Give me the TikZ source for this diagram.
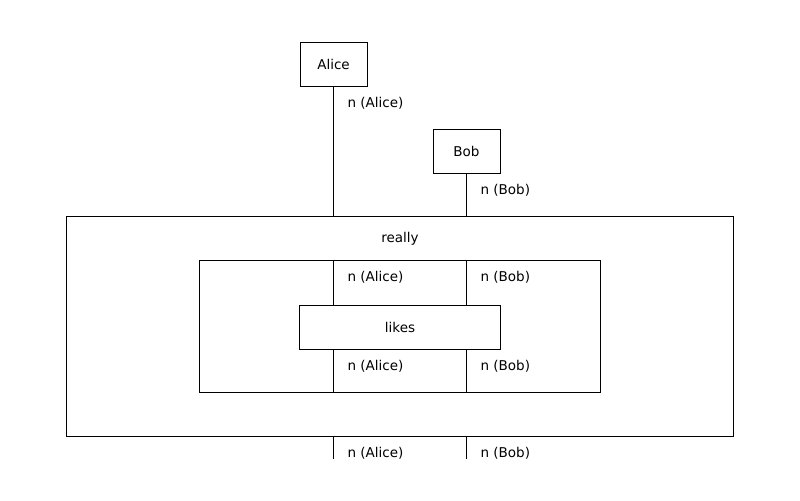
\documentclass[tikz,border=0pt]{standalone}
\usepackage{fontspec}
\setmainfont{DejaVu Sans}
\usetikzlibrary{positioning, calc}
\tikzset{
  morphism/.style={
    rectangle, draw=black, line width=0.7pt, minimum width=1.675cm,
    minimum height=1.1cm, inner sep=0pt, text centered
  },
  frame/.style={
    rectangle, draw=black, line width=0.7pt, inner sep=0pt
  },
  wire/.style={
    line width=0.7pt, color=black
  },
  wirelabel/.style={
    anchor=west, inner sep=0pt, xshift=0.34cm, yshift=-0.42cm
  }
}

\begin{document}
\begin{tikzpicture}[x=0.025cm, y=-0.025cm, font=\fontsize{9.6}{12}\selectfont]
\useasboundingbox (0,0) rectangle (800,500);

% Cadres
\node (outer) [frame, minimum width=16.65cm, minimum height=5.475cm] at (400,326.5) {};
\node (really) at (400,239) {really};
\node (inner) [frame, minimum width=10cm, minimum height=3.275cm] at (400,326.5) {};
\node (likes) [morphism, minimum width=5cm] at (400,327) {likes};

% Etats
\node (alice) [morphism] at (333.5,64) {Alice};
\node (bob) [morphism] at (466.5,151) {Bob};

% Fils vers le cadre
\foreach \who/\name in {alice/Alice, bob/Bob} {
  \coordinate (\who_end) at ($(\who.south |- outer.south) + (0,22)$);
  \draw [wire] (\who.south) node[wirelabel] {n (\name)} -- (\who.south |- outer.north);
  \draw [wire] (\who.south |- inner.north) node[wirelabel] {n (\name)} -- (\who.south |- likes.north);
  \draw [wire] (\who.south |- likes.south) node[wirelabel] {n (\name)} -- (\who.south |- inner.south);
  \draw [wire] (\who.south |- outer.south) node[wirelabel] {n (\name)} -- (\who_end);
}

\end{tikzpicture}
\end{document}
